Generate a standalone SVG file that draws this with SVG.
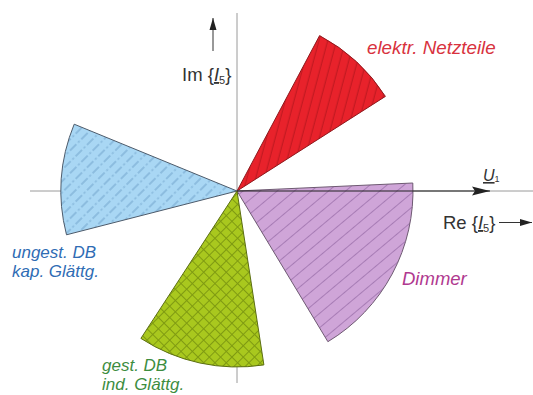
<svg xmlns="http://www.w3.org/2000/svg" width="533" height="395" viewBox="0 0 533 395">
<style>
.axis{stroke:#9a9a9a;stroke-width:1;fill:none}
.lbl{font-family:"Liberation Sans",Arial,sans-serif;font-size:18.5px;fill:#333}
.it{font-family:"Liberation Sans",Arial,sans-serif;font-style:italic;font-size:17px}
.sec{stroke-width:1;stroke-linejoin:round}
</style>
<defs>
<pattern id="pRed" patternUnits="userSpaceOnUse" width="8.5" height="10" patternTransform="rotate(15)">
<rect width="8.5" height="10" fill="#e8222b"/>
<line x1="4" y1="0" x2="4" y2="10" stroke="#b3161c" stroke-width="0.9"/>
</pattern>
<pattern id="pBlue" patternUnits="userSpaceOnUse" width="8" height="16" patternTransform="rotate(45)">
<rect width="8" height="16" fill="#a9d7f4"/>
<line x1="4" y1="0" x2="4" y2="9" stroke="#6b9dc6" stroke-width="0.9"/>
<line x1="4" y1="11.5" x2="4" y2="13.5" stroke="#6b9dc6" stroke-width="0.9"/>
</pattern>
<pattern id="pPurple" patternUnits="userSpaceOnUse" width="11" height="10" patternTransform="rotate(50)">
<rect width="11" height="10" fill="#cfa5d8"/>
<line x1="5.5" y1="0" x2="5.5" y2="10" stroke="#a77cb5" stroke-width="1"/>
</pattern>
<pattern id="pGreen" patternUnits="userSpaceOnUse" width="8" height="8" patternTransform="rotate(45)">
<rect width="8" height="8" fill="#a9c81e"/>
<line x1="0" y1="0.5" x2="8" y2="0.5" stroke="#7f9a12" stroke-width="1"/>
<line x1="0.5" y1="0" x2="0.5" y2="8" stroke="#7f9a12" stroke-width="1"/>
</pattern>
<marker id="ahBig" viewBox="0 0 18 10" refX="18" refY="5" markerWidth="18" markerHeight="10" markerUnits="userSpaceOnUse" orient="auto">
<path d="M0,0.5 L18,5 L0,9.5 L3,5 Z" fill="#222"/>
</marker>
<marker id="ah" viewBox="0 0 12 8" refX="12" refY="4" markerWidth="12" markerHeight="8" markerUnits="userSpaceOnUse" orient="auto">
<path d="M0,0.5 L12,4 L0,7.5 Z" fill="#222"/>
</marker>
</defs>

<g id="axes">
<line class="axis" x1="30" y1="191" x2="533" y2="191"/>
<line class="axis" x1="237" y1="13" x2="237" y2="383"/>
</g>

<g id="sector-netzteile">
<path class="sec" d="M237,191 L319.6,35.6 A176,176 0 0 1 385.4,96.4 Z" fill="url(#pRed)" stroke="#8e1a1e"/>
</g>
<g id="sector-ungest">
<path class="sec" d="M237,191 L66.5,234.8 A176,176 0 0 1 74.2,124.2 Z" fill="url(#pBlue)" stroke="#4d5b6b"/>
</g>
<g id="sector-dimmer">
<path class="sec" d="M237,191 L412.8,183 A176,176 0 0 1 327.9,341.7 Z" fill="url(#pPurple)" stroke="#6e5a72"/>
</g>
<g id="sector-gest">
<path class="sec" d="M237,191 L263.9,364.9 A176,176 0 0 1 140.9,338.4 Z" fill="url(#pGreen)" stroke="#5b6e12"/>
</g>

<g id="connectors">
<line x1="237" y1="191" x2="490" y2="191" stroke="#222" stroke-width="1.2" marker-end="url(#ahBig)"/>
<line x1="213" y1="51" x2="213" y2="18" stroke="#333" stroke-width="1" marker-end="url(#ah)"/>
<line x1="499" y1="222.5" x2="532" y2="222.5" stroke="#333" stroke-width="1" marker-end="url(#ah)"/>
</g>

<g id="label-im">
<text class="lbl" x="182" y="81">Im {<tspan font-style="italic" text-decoration="underline">I</tspan><tspan font-size="11" dy="3">5</tspan><tspan dy="-3">}</tspan></text>
</g>
<g id="label-re">
<text class="lbl" x="443" y="229">Re {<tspan font-style="italic" text-decoration="underline">I</tspan><tspan font-size="11" dy="3">5</tspan><tspan dy="-3">}</tspan></text>
</g>
<g id="label-u1">
<text class="lbl" x="483" y="181" style="font-size:16px"><tspan text-decoration="underline" font-style="italic">U</tspan><tspan style="font-size:9px" dy="1">1</tspan></text>
</g>
<g id="label-netzteile">
<text class="it" x="367" y="54" fill="#d8323e" style="font-size:18.8px">elektr. Netzteile</text>
</g>
<g id="label-dimmer">
<text class="it" x="402" y="285" fill="#b0398f" style="font-size:18.5px">Dimmer</text>
</g>
<g id="label-ungest">
<text class="it" x="12" y="258" fill="#2f6cb4">ungest. DB</text>
<text class="it" x="12" y="277" fill="#2f6cb4">kap. Glättg.</text>
</g>
<g id="label-gest">
<text class="it" x="102" y="371" fill="#3d8d3f">gest. DB</text>
<text class="it" x="102" y="390" fill="#3d8d3f">ind. Glättg.</text>
</g>
</svg>
